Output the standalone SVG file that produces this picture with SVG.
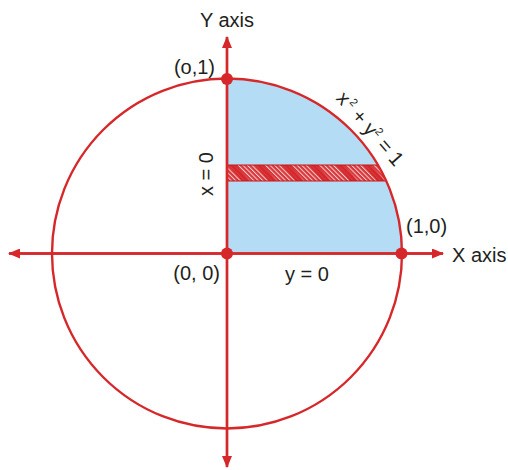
<svg xmlns="http://www.w3.org/2000/svg" width="508" height="470" viewBox="0 0 508 470">
  <style>
    .red { stroke: #d6282b; stroke-width: 2.4; fill: none; }
    .axis { stroke: #d6282b; stroke-width: 2.4; fill: none; }
    .dot { fill: #d6282b; }
    .lbl { font-family: "Liberation Sans", Arial, sans-serif; font-size: 20px; fill: #231f20; }
  </style>
  <defs>
    <marker id="arr" viewBox="0 0 12 10" refX="11" refY="5" markerWidth="12" markerHeight="10" markerUnits="userSpaceOnUse" orient="auto">
      <path d="M0,0 L12,5 L0,10 Z" fill="#d6282b"/>
    </marker>
    <pattern id="hatch" patternUnits="userSpaceOnUse" width="3.2" height="10" patternTransform="rotate(-45)">
      <rect width="3.2" height="10" fill="#d9363a"/>
      <rect x="0" width="1" height="10" fill="#f2cfcf"/>
    </pattern>
    <pattern id="bands" patternUnits="userSpaceOnUse" x="226" y="165" width="27" height="16">
      <polygon points="2,0 10,0 24,16 16,16" fill="#d42327" opacity="0.85"/>
    </pattern>
  </defs>

  <g id="region">
    <path d="M227,253.5 L227,78.5 A175,175 0 0 1 402,253.5 Z" fill="#b4ddf5"/>
  </g>

  <g id="strip">
    <path d="M227,165 L378.4,165 A175,175 0 0 1 386.3,181 L227,181 Z" fill="url(#hatch)"/>
    <path d="M227,165 L378.4,165 A175,175 0 0 1 386.3,181 L227,181 Z" fill="url(#bands)"/>
    <line x1="227" y1="165" x2="378.4" y2="165" stroke="#c4161c" stroke-width="1"/>
    <line x1="227" y1="181" x2="386.3" y2="181" stroke="#c4161c" stroke-width="1"/>
  </g>

  <g id="circle">
    <circle cx="227" cy="253.5" r="175" class="red"/>
  </g>

  <g id="connectors">
    <line class="axis" x1="227" y1="467" x2="227" y2="37" marker-end="url(#arr)"/>
    <line class="axis" x1="227" y1="37" x2="227" y2="467" marker-end="url(#arr)"/>
    <line class="axis" x1="9" y1="253.5" x2="443" y2="253.5" marker-end="url(#arr)"/>
    <line class="axis" x1="443" y1="253.5" x2="9" y2="253.5" marker-end="url(#arr)"/>
  </g>

  <g id="point-top">
    <circle class="dot" cx="227" cy="79" r="6"/>
    <text class="lbl" x="215" y="74" text-anchor="end">(o,1)</text>
  </g>
  <g id="point-origin">
    <circle class="dot" cx="227" cy="253.5" r="6"/>
    <text class="lbl" x="220" y="280" text-anchor="end">(0, 0)</text>
  </g>
  <g id="point-right">
    <circle class="dot" cx="401.5" cy="253.5" r="6"/>
    <text class="lbl" x="406" y="233">(1,0)</text>
  </g>

  <g id="labels">
    <text class="lbl" x="227" y="27" text-anchor="middle">Y axis</text>
    <text class="lbl" x="452" y="262">X axis</text>
    <text class="lbl" x="307" y="281" text-anchor="middle">y = 0</text>
    <text class="lbl" x="0" y="0" text-anchor="middle" transform="translate(213,174) rotate(-90)">x = 0</text>
    <text class="lbl" x="0" y="0" text-anchor="middle" transform="translate(365,133) rotate(49)">x<tspan font-size="11" dy="-8" dx="2">2</tspan><tspan dy="8"> + y</tspan><tspan font-size="11" dy="-8">2</tspan><tspan dy="8"> = 1</tspan></text>
  </g>
</svg>
